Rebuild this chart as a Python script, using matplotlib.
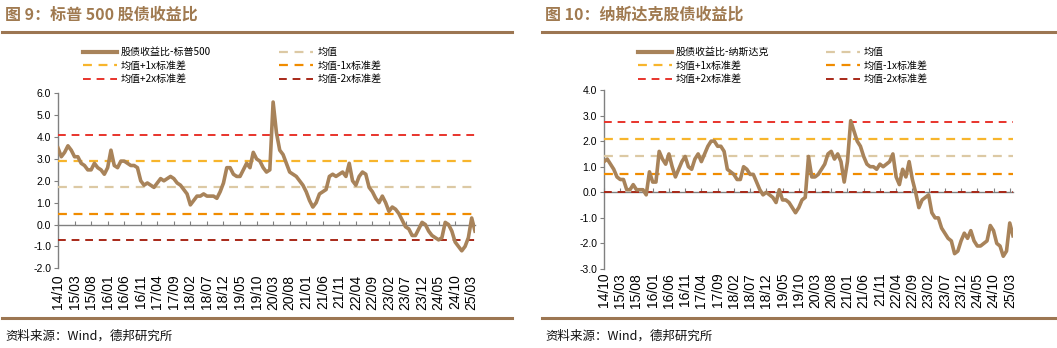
import matplotlib
matplotlib.use("Agg")
import matplotlib.pyplot as plt
from matplotlib.lines import Line2D

plt.rcParams['font.family'] = ['Liberation Sans', 'Noto Sans CJK SC', 'DejaVu Sans']
CJK = ['Noto Sans CJK SC', 'DejaVu Sans']

# ---------------- data ----------------
tick_labels = ["14/10", "15/03", "15/08", "16/01", "16/06", "16/11", "17/04", "17/09",
               "18/02", "18/07", "18/12", "19/05", "19/10", "20/03", "20/08", "21/01",
               "21/06", "21/11", "22/04", "22/09", "23/02", "23/07", "23/12", "24/05",
               "24/10", "25/03"]

# monthly values from 2014/10 (index 0) to 2025/04 (index 126)
spx_ratio = [3.5, 3.1, 3.3, 3.6, 3.4, 3.1, 3.1, 2.8, 2.7, 2.5,
             2.5, 2.8, 2.6, 2.5, 2.3, 2.6, 3.4, 2.7, 2.6, 2.9,
             2.9, 2.8, 2.7, 2.7, 2.6, 2.0, 1.8, 1.9, 1.8, 1.7,
             1.9, 2.1, 2.0, 2.1, 2.2, 2.1, 1.9, 1.8, 1.6, 1.4,
             0.9, 1.1, 1.3, 1.3, 1.4, 1.3, 1.3, 1.3, 1.2, 1.5,
             1.9, 2.6, 2.6, 2.3, 2.2, 2.2, 2.5, 2.8, 2.6, 3.3,
             3.0, 2.9, 2.6, 2.4, 2.5, 5.6, 4.2, 3.4, 3.2, 2.8,
             2.4, 2.3, 2.2, 2.0, 1.8, 1.5, 1.1, 0.8, 1.0, 1.4,
             1.5, 1.6, 2.2, 2.3, 2.2, 2.3, 2.4, 2.2, 2.8, 2.0,
             1.8, 2.2, 2.4, 2.3, 1.7, 1.5, 1.2, 1.0, 1.3, 1.0,
             0.6, 0.8, 0.7, 0.5, 0.2, -0.1, -0.2, -0.5, -0.5, -0.2,
             0.1, 0.0, -0.3, -0.5, -0.6, -0.7, -0.6, 0.1, 0.0, -0.3,
             -0.8, -1.0, -1.2, -1.0, -0.6, 0.3, -0.3]
spx_mean, spx_p1, spx_m1, spx_p2, spx_m2 = 1.7, 2.9, 0.5, 4.1, -0.7

ndx_ratio = [1.2, 1.3, 1.1, 0.9, 0.6, 0.5, 0.5, 0.1, 0.1, 0.3,
             0.1, 0.1, 0.1, -0.1, 0.8, 0.4, 0.4, 1.6, 1.3, 1.1,
             1.5, 1.0, 0.6, 0.9, 1.2, 1.4, 1.0, 0.9, 1.3, 1.5,
             1.2, 1.5, 1.8, 2.0, 2.0, 1.8, 1.8, 1.6, 0.9, 0.8,
             0.7, 0.5, 0.5, 1.0, 0.9, 0.7, 0.7, 0.4, 0.1, -0.1,
             0.0, -0.1, -0.2, -0.4, 0.1, -0.3, -0.3, -0.4, -0.6, -0.8,
             -0.6, -0.3, -0.2, 1.4, 0.6, 0.6, 0.7, 0.9, 1.1, 1.5,
             1.6, 1.3, 1.5, 1.2, 0.4, 1.2, 2.8, 2.4, 2.0, 1.8,
             1.4, 1.1, 1.0, 1.0, 0.9, 1.1, 1.0, 1.1, 1.2, 1.5,
             0.6, 0.3, 0.9, 0.6, 1.2, 0.5, 0.0, -0.6, -0.3, -0.2,
             -0.1, -0.8, -1.0, -1.0, -1.4, -1.6, -1.8, -1.9, -2.4, -2.3,
             -1.9, -1.6, -1.8, -1.5, -1.9, -2.1, -2.1, -2.0, -1.9, -1.3,
             -1.5, -2.0, -2.1, -2.5, -2.3, -1.2, -1.7]
ndx_mean, ndx_p1, ndx_m1, ndx_p2, ndx_m2 = 1.4, 2.1, 0.7, 2.75, 0.02

# ---------------- style ----------------
C_LINE = '#a8835a'
C_MEAN = '#dcc9a4'
C_P1 = '#f7b52c'
C_M1 = '#f08c00'
C_P2 = '#e8342c'
C_M2 = '#a82818'
C_TITLE = '#a07a50'
C_RULE = '#9c7652'
C_AXIS = '#808080'

W, H = 1057, 348
fig = plt.figure(figsize=(W / 100, H / 100), dpi=100)


def fx(px):
    return px / W


def fy(py):
    return 1 - py / H


def panel(ax_box, series, levels, ylim, yticks, name, title, tx, rule, legend_pos,
          colspace, label_pad):
    ax = fig.add_axes(ax_box)
    x = list(range(len(series)))
    mean, p1, m1, p2, m2 = levels
    ax.plot(x, series, color=C_LINE, lw=2.6, solid_joinstyle='round', zorder=5)
    dash = (0, (4, 3))
    ax.axhline(mean, color=C_MEAN, lw=1.6, ls=dash, zorder=3)
    ax.axhline(p1, color=C_P1, lw=1.6, ls=dash, zorder=3)
    ax.axhline(m1, color=C_M1, lw=1.6, ls=dash, zorder=3)
    ax.axhline(p2, color=C_P2, lw=1.4, ls=dash, zorder=3)
    ax.axhline(m2, color=C_M2, lw=1.4, ls=dash, zorder=4)
    ax.set_xlim(0, 126)
    ax.set_ylim(*ylim)
    ax.set_yticks(yticks)
    ax.set_yticklabels([f"{v:.1f}" for v in yticks], fontsize=7.5)
    ax.set_xticks(range(0, 126, 5))
    ax.set_xticklabels(tick_labels, fontsize=7.5)
    for s in ['top', 'right']:
        ax.spines[s].set_visible(False)
    ax.spines['left'].set_color(C_AXIS)
    ax.spines['left'].set_linewidth(1.0)
    ax.spines['bottom'].set_position(('data', 0))
    ax.spines['bottom'].set_color(C_AXIS)
    ax.spines['bottom'].set_linewidth(1.0)
    ax.tick_params(axis='y', direction='out', length=3, width=0.8, color=C_AXIS, pad=2)
    ax.tick_params(axis='x', direction='in', length=3, width=0.8, color=C_AXIS,
                   pad=label_pad, labelrotation=90)
    ax.patch.set_alpha(0)

    handles = [
        Line2D([], [], color=C_LINE, lw=3),
        Line2D([], [], color=C_P1, lw=1.6, ls=(0, (4, 3))),
        Line2D([], [], color=C_P2, lw=1.4, ls=(0, (4, 3))),
        Line2D([], [], color=C_MEAN, lw=1.6, ls=(0, (4, 3))),
        Line2D([], [], color=C_M1, lw=1.6, ls=(0, (4, 3))),
        Line2D([], [], color=C_M2, lw=1.4, ls=(0, (4, 3))),
    ]
    labels = [name, '均值+1x标准差', '均值+2x标准差', '均值', '均值-1x标准差', '均值-2x标准差']
    fig.legend(handles, labels, loc='upper left', bbox_to_anchor=legend_pos,
               bbox_transform=fig.transFigure, ncol=2, frameon=False,
               prop={'family': CJK, 'size': 7.2}, handlelength=3.4,
               handletextpad=0.4, labelspacing=0.35, columnspacing=colspace,
               borderpad=0, borderaxespad=0)

    fig.text(fx(tx), fy(15), title, fontsize=11.5, fontweight='bold', color=C_TITLE,
             family=CJK, ha='left', va='center')
    fig.add_artist(Line2D([fx(rule[0]), fx(rule[1])], [fy(32), fy(32)],
                          color=C_RULE, lw=2.2))
    fig.add_artist(Line2D([fx(rule[0]), fx(rule[1])], [fy(318), fy(318)],
                          color=C_RULE, lw=2.2))
    fig.text(fx(tx), fy(336), '资料来源：Wind，德邦研究所', fontsize=9, color='#111111',
             family=CJK, ha='left', va='center')
    return ax


# left panel: y -2..6 from px 268.3 to 93.3; x from 58 to 475
panel([fx(58), fy(268.3), fx(475) - fx(58), (268.3 - 93.3) / H],
      spx_ratio, (spx_mean, spx_p1, spx_m1, spx_p2, spx_m2),
      (-2, 6), [-2, -1, 0, 1, 2, 3, 4, 5, 6], '股债收益比-标普500',
      '图 9：标普 500 股债收益比', 5, (2, 512), (fx(83), fy(47)), 6.8, 36)

# right panel: y -3..4 from px 269 to 90; x from 604 to 1013
panel([fx(604), fy(269), fx(1013) - fx(604), (269 - 90) / H],
      ndx_ratio, (ndx_mean, ndx_p1, ndx_m1, ndx_p2, ndx_m2),
      (-3, 4), [-3, -2, -1, 0, 1, 2, 3, 4], '股债收益比-纳斯达克',
      '图 10：纳斯达克股债收益比', 545, (542, 1055), (fx(638), fy(47)), 5.6, 58)

fig.savefig('out.png', dpi=100)
